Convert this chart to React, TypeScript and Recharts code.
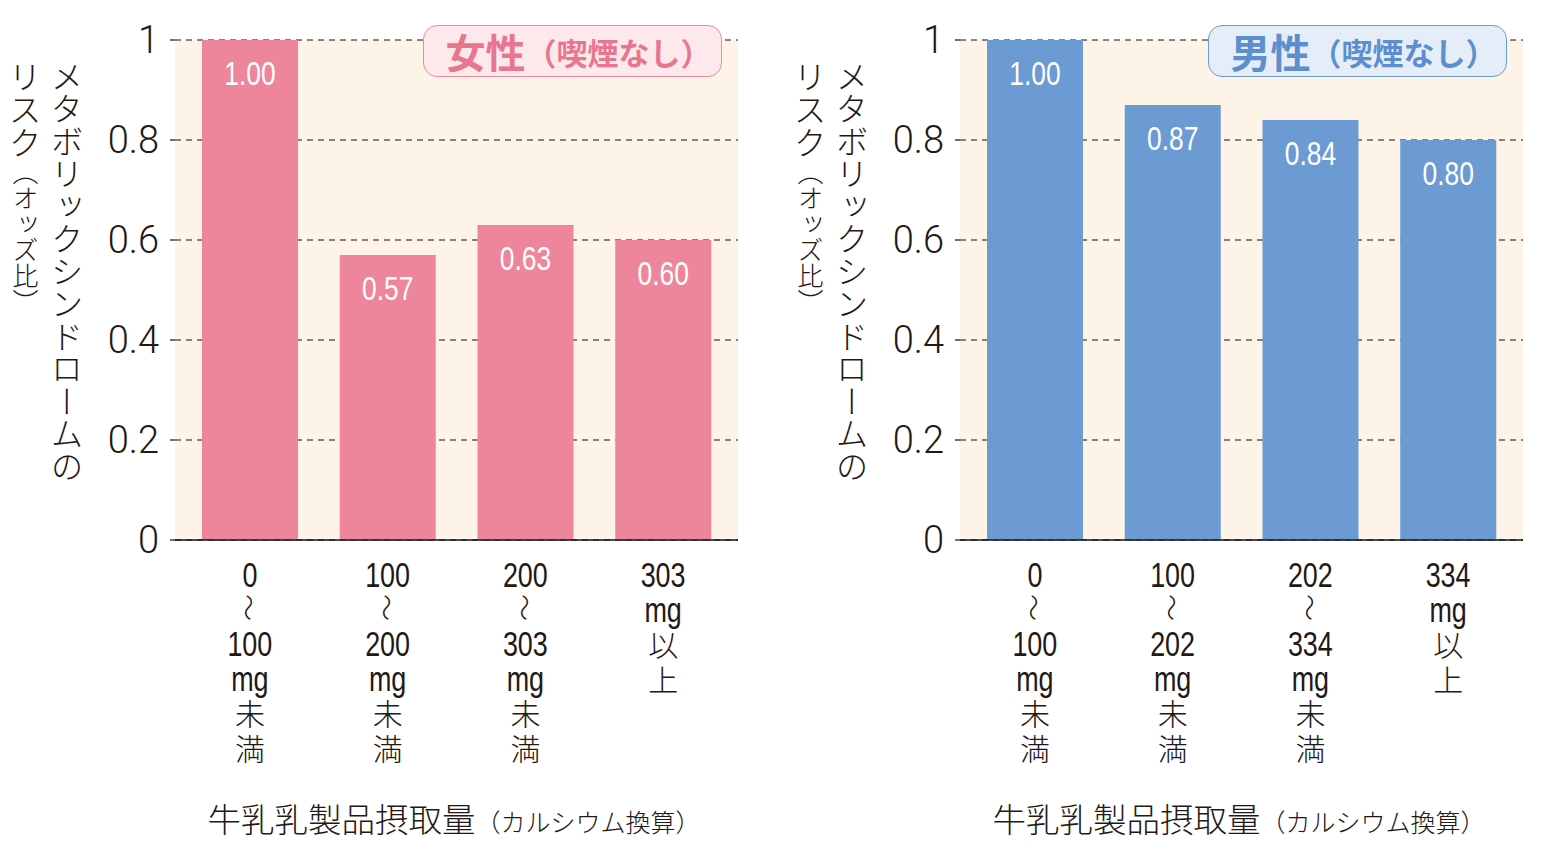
import React from 'react';
import { BarChart, Bar, XAxis, YAxis, CartesianGrid, LabelList } from 'recharts';

const femaleCategories = ['0〜100mg未満', '100〜200mg未満', '200〜303mg未満', '303mg以上'];
const femaleValues = [1.0, 0.57, 0.63, 0.6];
const femaleTickLines = [
  ['0', '〜', '100', 'mg', '未', '満'],
  ['100', '〜', '200', 'mg', '未', '満'],
  ['200', '〜', '303', 'mg', '未', '満'],
  ['303', 'mg', '以', '上'],
];

const maleCategories = ['0〜100mg未満', '100〜202mg未満', '202〜334mg未満', '334mg以上'];
const maleValues = [1.0, 0.87, 0.84, 0.8];
const maleTickLines = [
  ['0', '〜', '100', 'mg', '未', '満'],
  ['100', '〜', '202', 'mg', '未', '満'],
  ['202', '〜', '334', 'mg', '未', '満'],
  ['334', 'mg', '以', '上'],
];

const yTicks = [0, 0.2, 0.4, 0.6, 0.8, 1];
const yTitleMain = 'メタボリックシンドロームの';
const yTitleSub1 = 'リスク';
const yTitleSub2 = '（オッズ比）';
const xTitleMain = '牛乳乳製品摂取量';
const xTitleSub = '（カルシウム換算）';
const femaleTitle = '女性';
const maleTitle = '男性';
const titleSuffix = '（喫煙なし）';

const JP = '"Noto Sans CJK JP", "Noto Sans", sans-serif';
const LIB = '"Liberation Sans", Arial, sans-serif';
const NUM = 'Roboto, "Liberation Sans", sans-serif';
const INK = '#231815';

const fmtY = (v: number) => (v === 0 ? '0' : v === 1 ? '1' : v.toFixed(1));

// approximate natural advance widths (em) for Liberation Sans
const libWidth = (s: string) =>
  s.split('').reduce((a, c) => a + (c === '.' ? 0.278 : c === 'm' ? 0.833 : 0.556), 0);

const makeTick = (linesArr: string[][], cats: string[]) => (props: any) => {
  const { x, y, payload } = props;
  const idx = cats.indexOf(payload.value);
  const lines = linesArr[idx] || [];
  const waveIdx = lines.indexOf('〜');
  return (
    <g>
      <text x={x} y={y} textAnchor="middle" dominantBaseline="central" fill={INK}>
        {lines.map((ln, i) => {
          const cy = y + 26 + i * 34.6;
          if (ln === '〜') return null;
          const isCJK = /[\u3000-\u9fff]/.test(ln);
          if (isCJK) {
            return (
              <tspan key={i} x={x} y={cy} fontFamily={JP} fontSize={30} fontWeight={300}>
                {ln}
              </tspan>
            );
          }
          const fs = 35;
          return (
            <tspan
              key={i}
              x={x}
              y={cy}
              fontFamily={LIB}
              fontSize={fs}
              textLength={libWidth(ln) * fs * 0.77}
              lengthAdjust="spacingAndGlyphs"
            >
              {ln}
            </tspan>
          );
        })}
      </text>
      {waveIdx >= 0 && (
        <text
          transform={`translate(${x},${y + 26 + waveIdx * 34.6 - 1}) rotate(90)`}
          textAnchor="middle"
          dominantBaseline="central"
          fontFamily={JP}
          fontSize={27}
          fontWeight={300}
          fill={INK}
        >
          〜
        </text>
      )}
    </g>
  );
};

const YTick = (props: any) => {
  const { x, y, payload } = props;
  const s = fmtY(payload.value);
  return (
    <text
      x={x}
      y={y}
      textAnchor="end"
      dominantBaseline="central"
      fontFamily={NUM}
      fontWeight={300}
      fontSize={38}
      fill={INK}
    >
      {s}
    </text>
  );
};

const ValueLabel = (props: any) => {
  const { x, y, width, value } = props;
  const s = Number(value).toFixed(2);
  const fs = 33;
  return (
    <text
      x={x + width / 2}
      y={y + 33}
      textAnchor="middle"
      dominantBaseline="central"
      fontFamily={LIB}
      fontSize={fs}
      textLength={libWidth(s) * fs * 0.8}
      lengthAdjust="spacingAndGlyphs"
      fill="#fff"
    >
      {s}
    </text>
  );
};

type PanelProps = {
  left: number;
  cats: string[];
  values: number[];
  tickLines: string[][];
  color: string;
  title: string;
  titleColor: string;
  boxFill: string;
  boxStroke: string;
};

const Panel = ({ left, cats, values, tickLines, color, title, titleColor, boxFill, boxStroke }: PanelProps) => {
  const data = cats.map((c, i) => ({ cat: c, value: values[i] }));
  const Tick = makeTick(tickLines, cats);
  return (
    <div style={{ position: 'absolute', left, top: 0, width: 760, height: 854 }}>
      <BarChart
        width={760}
        height={854}
        data={data}
        margin={{ top: 40, right: 22, bottom: 0, left: 0 }}
        barCategoryGap={0}
      >
        <CartesianGrid
          vertical={false}
          stroke="#111"
          strokeWidth={1.2}
          strokeDasharray="6 5"
          fill="#fdf3e7"
          fillOpacity={1}
        />
        <XAxis
          dataKey="cat"
          height={314}
          padding={{ left: 6, right: 6 }}
          axisLine={{ stroke: '#111', strokeWidth: 1.5 }}
          tickLine={false}
          tick={<Tick />}
          interval={0}
        />
        <YAxis
          width={175}
          domain={[0, 1]}
          ticks={yTicks}
          axisLine={false}
          tickLine={{ stroke: '#111', strokeWidth: 1.2 }}
          tickSize={5}
          tickMargin={11}
          tick={<YTick />}
        />
        <Bar dataKey="value" fill={color} barSize={96} isAnimationActive={false}>
          <LabelList dataKey="value" content={<ValueLabel />} />
        </Bar>
      </BarChart>

      <div
        style={{
          position: 'absolute',
          left: 423,
          top: 25,
          width: 299,
          height: 52,
          boxSizing: 'border-box',
          paddingLeft: 12,
          borderRadius: 14,
          border: `1.5px solid ${boxStroke}`,
          background: boxFill,
          display: 'flex',
          alignItems: 'center',
          justifyContent: 'center',
          fontFamily: JP,
          fontWeight: 700,
          color: titleColor,
          whiteSpace: 'nowrap',
        }}
      >
        <span style={{ fontSize: 40, lineHeight: 1 }}>{title}</span>
        <span style={{ fontSize: 31, lineHeight: 1 }}>{titleSuffix}</span>
      </div>

      <div
        style={{
          position: 'absolute',
          left: 50,
          top: 60,
          writingMode: 'vertical-rl',
          fontFamily: JP,
          fontSize: 32.5,
          lineHeight: 1,
          fontWeight: 300,
          color: INK,
          whiteSpace: 'nowrap',
        }}
      >
        {yTitleMain}
      </div>
      <div
        style={{
          position: 'absolute',
          left: 8,
          top: 60,
          writingMode: 'vertical-rl',
          fontFamily: JP,
          lineHeight: 1,
          fontWeight: 300,
          color: INK,
          whiteSpace: 'nowrap',
        }}
      >
        <span style={{ fontSize: 33 }}>{yTitleSub1}</span>
        <span style={{ fontSize: 26 }}>{yTitleSub2}</span>
      </div>

      <div
        style={{
          position: 'absolute',
          left: 454 - 300,
          width: 600,
          top: 801,
          textAlign: 'center',
          fontFamily: JP,
          fontWeight: 300,
          color: INK,
          whiteSpace: 'nowrap',
          lineHeight: 1,
        }}
      >
        <span style={{ fontSize: 33.5 }}>{xTitleMain}</span>
        <span style={{ fontSize: 25 }}>{xTitleSub}</span>
      </div>
    </div>
  );
};

export default function App() {
  return (
    <div
      style={{
        position: 'absolute',
        left: 0,
        top: 0,
        width: 1545,
        height: 854,
        background: '#fff',
        overflow: 'hidden',
      }}
    >
      <Panel
        left={0}
        cats={femaleCategories}
        values={femaleValues}
        tickLines={femaleTickLines}
        color="#ee869b"
        title={femaleTitle}
        titleColor="#e8768f"
        boxFill="#fde9ec"
        boxStroke="#ec8a9f"
      />
      <Panel
        left={785}
        cats={maleCategories}
        values={maleValues}
        tickLines={maleTickLines}
        color="#6b9bd2"
        title={maleTitle}
        titleColor="#5d8fcf"
        boxFill="#e4edf8"
        boxStroke="#6a9bd3"
      />
    </div>
  );
}
